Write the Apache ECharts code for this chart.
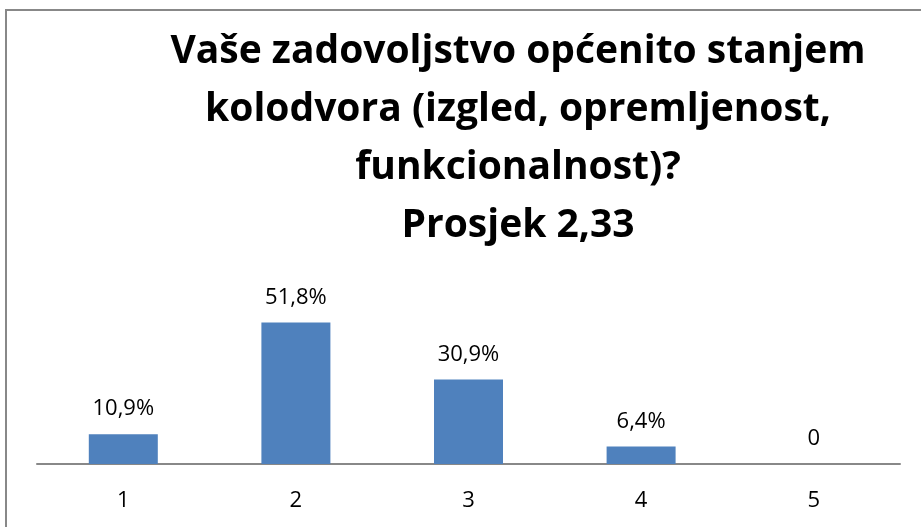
<!DOCTYPE html>
<html>
<head>
<meta charset="utf-8">
<script src="https://cdn.jsdelivr.net/npm/echarts@6/dist/echarts.min.js"></script>
<style>
html, body { margin: 0; padding: 0; background: #fff; }
#chart { width: 921px; height: 527px; }
</style>
</head>
<body>
<div id="chart"></div>
<script>
// ocjene 1-5 i postotci odgovora
var categories = ['1', '2', '3', '4', '5'];
var values = [10.9, 51.8, 30.9, 6.4, 0];
var labels = ['10,9%', '51,8%', '30,9%', '6,4%', '0'];
var titleText = 'Vaše zadovoljstvo općenito stanjem\nkolodvora (izgled, opremljenost,\nfunkcionalnost)?\nProsjek 2,33';

var chart = echarts.init(document.getElementById('chart'));

chart.setOption({
    animation: false,
    graphic: [{
        type: 'rect',
        shape: { x: 6, y: 10, width: 1000, height: 1000 },
        style: { fill: 'none', stroke: '#888', lineWidth: 2 }
    }, {
        // naslov, centriran malo desno od sredine kao u originalu
        type: 'text',
        x: 518,
        y: 23,
        style: {
            text: titleText,
            align: 'center',
            verticalAlign: 'top',
            font: 'bold 39px "Open Sans"',
            lineHeight: 58,
            fill: '#000'
        }
    }],
    grid: { left: 37, right: 21, top: 300, bottom: 63 },
    xAxis: {
        type: 'category',
        data: categories,
        axisLine: { lineStyle: { color: '#888', width: 2 } },
        axisTick: { show: false },
        axisLabel: { color: '#000', fontSize: 22, fontFamily: 'Open Sans', margin: 26 }
    },
    yAxis: {
        type: 'value',
        min: 0,
        max: 60,
        show: false,
        splitLine: { show: false }
    },
    series: [{
        type: 'bar',
        data: values,
        barWidth: 69,
        itemStyle: { color: '#4f81bd' },
        label: {
            show: true,
            position: 'top',
            distance: 14,
            color: '#000',
            fontSize: 22,
            fontFamily: 'Open Sans',
            formatter: function (p) { return labels[p.dataIndex]; }
        }
    }]
});
</script>
</body>
</html>
